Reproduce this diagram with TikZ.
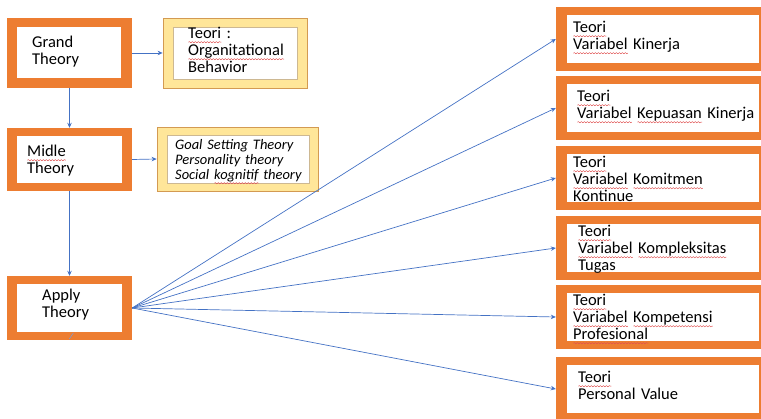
\documentclass[tikz,border=0pt]{standalone}
\usepackage{fontspec}
\setmainfont{Carlito}
\usetikzlibrary{arrows.meta,decorations.pathmorphing}

\definecolor{boxorange}{HTML}{ED7D31}
\definecolor{boxyellow}{HTML}{FFE699}
\definecolor{yedge}{HTML}{D39A52}
\definecolor{yinner}{HTML}{CDB892}
\definecolor{linkblue}{HTML}{4472C4}
\definecolor{spellred}{HTML}{E05050}

% red wavy underline for flagged words
\newsavebox\splbox
\newcommand\spl[1]{\leavevmode\sbox\splbox{#1}\rlap{\tikz[baseline=0pt,x=1pt,y=1pt]\draw[spellred,line width=0.45pt,decorate,decoration={snake,amplitude=0.6pt,segment length=3pt}] (0,-3.2) -- (\the\wd\splbox,-3.2);}\usebox\splbox}

\newcommand\boxfont{\fontsize{16.5}{17}\selectfont}
\newcommand\goalfont{\fontsize{14.5}{15}\selectfont\itshape}

\tikzset{
  obox/.style={rectangle, fill=boxorange, draw=none, inner sep=0pt},
  ibox/.style={rectangle, fill=white, draw=none, inner sep=0pt},
  ybox/.style={rectangle, fill=boxyellow, draw=yedge, line width=0.8pt, inner sep=0pt},
  yin/.style={rectangle, fill=white, draw=yinner, line width=0.6pt, inner sep=0pt},
  lbl/.style={anchor=base west, inner sep=0pt, text width=200pt, align=left, font=\boxfont},
  glbl/.style={anchor=base west, inner sep=0pt, text width=160pt, align=left, font=\goalfont},
  link/.style={draw=linkblue, line width=0.7pt, -{Stealth[length=5pt,width=4.5pt]}}
}

\begin{document}
\begin{tikzpicture}[x=1pt,y=-1pt]
\useasboundingbox (0,0) rectangle (761,419);
\clip (0,0) rectangle (761,419);

% left column: theory levels
\node[obox, minimum width=125pt, minimum height=70pt] (grand) at (69.5,53) {};
\node[ibox, minimum width=104pt, minimum height=51pt] (grandin) at (69,52.5) {};
\node[lbl] (grandtxt) at (32,48) {Grand\\Theory};

\node[obox, minimum width=125pt, minimum height=63pt] (midle) at (69.5,159.5) {};
\node[ibox, minimum width=105pt, minimum height=47pt] (midlein) at (69.5,159.5) {};
\node[lbl] (midletxt) at (27,157) {\spl{Midle}\\Theory};

\node[obox, minimum width=125pt, minimum height=64pt] (apply) at (69.5,308) {};
\node[ibox, minimum width=105pt, minimum height=48pt] (applyin) at (69.5,308) {};
\node[lbl] (applytxt) at (42,301) {Apply\\Theory};

% yellow boxes
\node[ybox, minimum width=144pt, minimum height=70pt] (org) at (235,53) {};
\node[yin, minimum width=124pt, minimum height=52pt] (orgin) at (235,53) {};
\node[lbl] (orgtxt) at (188,39) {\spl{Teori} :\\\spl{Organitational}\\Behavior};

\node[ybox, minimum width=161pt, minimum height=64pt] (goal) at (237.5,159) {};
\node[yin, minimum width=142pt, minimum height=48pt] (goalin) at (238,159) {};
\node[glbl] (goaltxt) at (175,150) {Goal Setting Theory\\Personality theory\\Social \spl{kognitif} theory};

% right column: variable theories
\foreach \n/\cy in {k1/39, k2/108, k3/178, k4/248, k5/317, k6/389}{
  \node[obox, minimum width=219pt, minimum height=64pt] (\n) at (665.5,\cy) {};
  \node[ibox, minimum width=192pt, minimum height=48pt] (\n in) at (663,\cy) {};
}
\node[lbl] (k1txt) at (573,33) {\spl{Teori}\\\spl{Variabel} Kinerja};
\node[lbl] (k2txt) at (577,102) {\spl{Teori}\\\spl{Variabel} \spl{Kepuasan} Kinerja};
\node[lbl] (k3txt) at (573,168) {\spl{Teori}\\\spl{Variabel} \spl{Komitmen}\\Kontinue};
\node[lbl] (k4txt) at (578,237) {\spl{Teori}\\\spl{Variabel} \spl{Kompleksitas}\\Tugas};
\node[lbl] (k5txt) at (573,306) {\spl{Teori}\\\spl{Variabel} \spl{Kompetensi}\\\spl{Profesional}};
\node[lbl] (k6txt) at (578,383) {\spl{Teori}\\Personal Value};

% connectors
\draw[link] (grand.east) -- (org.west);
\draw[link] (midle.east) -- (goal.west);
\draw[link] (grand.south) -- (midle.north);
\draw[link] (midle.south) -- (apply.north);
\foreach \n in {k1,k2,k3,k4,k5,k6}{
  \draw[link] (apply.east) -- (\n.west);
}

% small stray stroke on the lower edge of the Apply box
\coordinate (strayA) at (69.3,339);
\coordinate (strayB) at (73.3,333);
\draw[linkblue!70, line width=0.5pt] (strayA) -- (strayB);
\end{tikzpicture}
\end{document}
